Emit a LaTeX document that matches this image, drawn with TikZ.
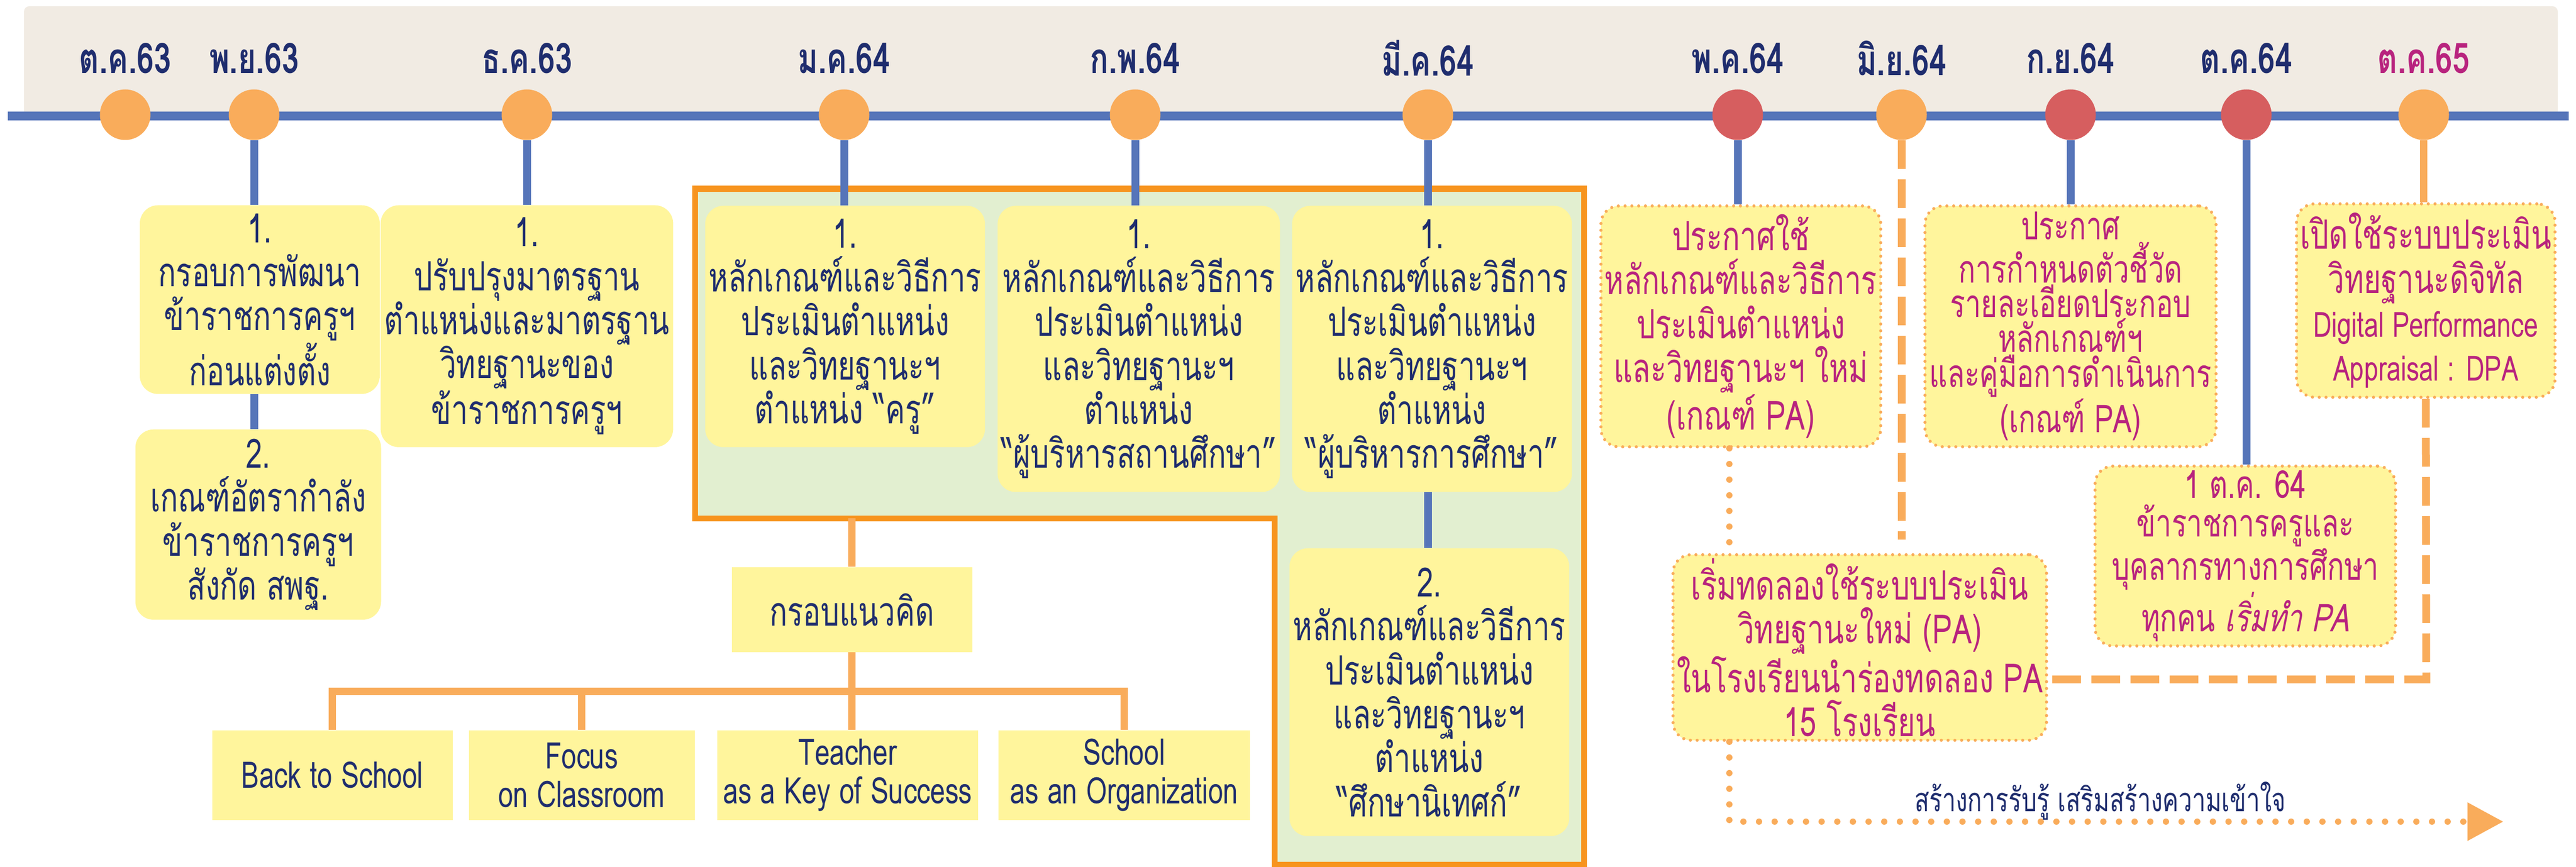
\documentclass[tikz,border=0pt]{standalone}
\usepackage{fontspec}
\setmainfont[Script=Thai,FakeStretch=0.73]{Loma}
\newfontfamily\thaiit[Script=Thai,FakeStretch=0.73,FakeSlant=0.2]{Loma}
\usetikzlibrary{positioning,arrows.meta,calc}
\definecolor{TLNavy}{HTML}{1F2D6E}
\definecolor{TLMagenta}{HTML}{B8237E}
\definecolor{TLBeige}{HTML}{F1EBE3}
\definecolor{TLBlue}{HTML}{5675B9}
\definecolor{TLDotOrange}{HTML}{F9AC5B}
\definecolor{TLDotRed}{HTML}{D65E5F}
\definecolor{TLYellow}{HTML}{FFF59C}
\definecolor{TLGreen}{HTML}{E2EFD0}
\definecolor{TLFrame}{HTML}{F7941E}
\tikzset{
    block/.style = {fill=TLYellow, rounded corners=0.35cm, align=center,
        text=TLNavy, inner sep=2pt, anchor=north,
        font=\fontsize{22}{24}\selectfont},
    pablock/.style = {block, draw=TLDotOrange, line width=0.06cm,
        dash pattern=on 0pt off 0.13cm, line cap=round, text=TLMagenta},
    plain/.style = {fill=TLYellow, align=center, text=TLNavy, anchor=north,
        inner sep=2pt, font=\fontsize{20}{21}\selectfont},
    tdot/.style = {circle, minimum size=0.97cm, inner sep=0pt},
    datelab/.style = {font=\bfseries\fontsize{23}{24}\selectfont},
    stem/.style = {draw, TLBlue, line width=0.15cm},
    ostem/.style = {draw, TLDotOrange, line width=0.14cm},
    dashline/.style = {draw, TLDotOrange, line width=0.15cm, dash pattern=on 0.55cm off 0.2cm},
    dotline/.style = {draw, TLDotOrange, line width=0.12cm, line cap=round, dash pattern=on 0pt off 0.3cm}
}

\begin{document}
\begin{tikzpicture}
        \useasboundingbox (0,0) rectangle (49.38,-16.63);
        % band and frame
        \fill[TLBeige, rounded corners=0.1cm] (0.46,-0.12) rectangle (49.03,-2.23);
        \draw[TLFrame, fill=TLGreen, line width=0.11cm] (13.32,-3.62) -- (30.36,-3.62) -- (30.36,-16.58)
            -- (24.43,-16.58) -- (24.43,-9.94) -- (13.32,-9.94) -- cycle;
        \coordinate (frm) at (13.32,-9.94);
        \coordinate (tlstart) at (0.15,-2.23);
        \coordinate (tlend) at (49.24,-2.23);
        \draw[TLBlue, line width=0.17cm] (tlstart) -- (tlend);

        % timeline
        \foreach \x/\lab/\col/\tc/\n in {2.40/ต.ค.63/TLDotOrange/TLNavy/1, 4.87/พ.ย.63/TLDotOrange/TLNavy/2,
            10.10/ธ.ค.63/TLDotOrange/TLNavy/3, 16.18/ม.ค.64/TLDotOrange/TLNavy/4, 21.76/ก.พ.64/TLDotOrange/TLNavy/5,
            27.37/มี.ค.64/TLDotOrange/TLNavy/6, 33.31/พ.ค.64/TLDotRed/TLNavy/7, 36.45/มิ.ย.64/TLDotOrange/TLNavy/8,
            39.69/ก.ย.64/TLDotRed/TLNavy/9, 43.06/ต.ค.64/TLDotRed/TLNavy/10, 46.46/ต.ค.65/TLDotOrange/TLMagenta/11}{
            \node [tdot, fill=\col, name=dot\n] at (\x,-2.2) {};
            \node [datelab, text=\tc, name=lab\n] at (\x,-1.12) {\lab};
        }

        % blocks
        \node [block, minimum width=4.6cm, minimum height=3.62cm, name=A1] at (4.98,-3.93)
            {1.\\กรอบการพัฒนา\\ข้าราชการครูฯ\\ก่อนแต่งตั้ง};
        \node [block, minimum width=4.71cm, minimum height=3.65cm, name=A2] at (4.95,-8.23)
            {2.\\เกณฑ์อัตรากำลัง\\ข้าราชการครูฯ\\สังกัด สพฐ.};
        \node [block, minimum width=5.28cm, minimum height=4.64cm, name=B1] at (10.10,-3.93)
            {1.\\ปรับปรุงมาตรฐาน\\ตำแหน่งและมาตรฐาน\\วิทยฐานะของ\\ข้าราชการครูฯ};
        \node [block, minimum width=5.27cm, minimum height=4.63cm, name=C1] at (16.20,-3.94)
            {1.\\หลักเกณฑ์และวิธีการ\\ประเมินตำแหน่ง\\และวิทยฐานะฯ\\ตำแหน่ง “ครู”};
        \node [block, minimum width=5.26cm, minimum height=5.49cm, name=C2] at (21.83,-3.94)
            {1.\\หลักเกณฑ์และวิธีการ\\ประเมินตำแหน่ง\\และวิทยฐานะฯ\\ตำแหน่ง\\“ผู้บริหารสถานศึกษา”};
        \node [block, minimum width=5.25cm, minimum height=5.49cm, name=C3] at (27.45,-3.94)
            {1.\\หลักเกณฑ์และวิธีการ\\ประเมินตำแหน่ง\\และวิทยฐานะฯ\\ตำแหน่ง\\“ผู้บริหารการศึกษา”};
        \node [block, minimum width=5.25cm, minimum height=5.52cm, name=C4] at (27.40,-10.51)
            {2.\\หลักเกณฑ์และวิธีการ\\ประเมินตำแหน่ง\\และวิทยฐานะฯ\\ตำแหน่ง\\“ศึกษานิเทศก์”};
        \node [plain, minimum width=4.61cm, minimum height=1.63cm, name=K, font=\fontsize{22}{22}\selectfont] at (16.33,-10.87) {กรอบแนวคิด};
        \node [plain, minimum width=4.61cm, minimum height=1.72cm, name=D1] at (6.37,-14.00) {Back to School};
        \node [plain, minimum width=4.33cm, minimum height=1.72cm, name=D2] at (11.15,-14.00) {Focus\\on Classroom};
        \node [plain, minimum width=5.00cm, minimum height=1.72cm, name=D3] at (16.25,-14.00) {Teacher\\as a Key of Success};
        \node [plain, minimum width=4.82cm, minimum height=1.72cm, name=D4] at (21.55,-14.00) {School\\as an Organization};

        \node [pablock, minimum width=5.21cm, minimum height=4.62cm, name=E1] at (33.37,-3.92)
            {ประกาศใช้\\หลักเกณฑ์และวิธีการ\\ประเมินตำแหน่ง\\และวิทยฐานะฯ ใหม่\\(เกณฑ์ PA)};
        \node [pablock, minimum width=5.58cm, minimum height=4.62cm, name=E2, font=\fontsize{21}{19}\selectfont] at (39.69,-3.92)
            {ประกาศ\\การกำหนดตัวชี้วัด\\รายละเอียดประกอบ\\หลักเกณฑ์ฯ\\และคู่มือการดำเนินการ\\(เกณฑ์ PA)};
        \node [pablock, minimum width=4.82cm, minimum height=3.71cm, name=E3] at (46.50,-3.88)
            {เปิดใช้ระบบประเมิน\\วิทยฐานะดิจิทัล\\{\fontsize{19}{22}\selectfont Digital Performance}\\{\fontsize{19}{22}\selectfont Appraisal : DPA}};
        \node [pablock, minimum width=5.76cm, minimum height=3.45cm, name=E4, font=\fontsize{21}{21}\selectfont] at (43.04,-8.91)
            {1 ต.ค. 64\\ข้าราชการครูและ\\บุคลากรทางการศึกษา\\ทุกคน {\thaiit เริ่มทำ PA}};
        \node [pablock, minimum width=7.04cm, minimum height=3.41cm, name=E5] at (35.65,-10.61)
            {เริ่มทดลองใช้ระบบประเมิน\\วิทยฐานะใหม่ (PA)\\ในโรงเรียนนำร่องทดลอง PA\\15 โรงเรียน};

        % connectors
        \foreach \d/\b in {2/A1,3/B1,4/C1,5/C2,6/C3,7/E1,9/E2,10/E4}{
            \draw [stem] (dot\d.south) -- (dot\d.south |- \b.north);
        }
        \draw [stem] (A1.south -| dot2) -- (A2.north -| dot2);
        \draw [stem] (C3.south -| dot6) -- (C4.north -| dot6);
        \draw [ostem] (dot11.south) -- (dot11.south |- E3.north);
        \draw [ostem] (K.north) -- (K.north |- frm);
        \draw [ostem] (K.south) -- (K.south |- D3.north);
        \coordinate (br) at (0,-13.26);
        \draw [ostem] (D1.north) -- (D1.north |- br) -- (D4.north |- br) -- (D4.north);
        \draw [ostem] (D2.north) -- (D2.north |- br);

        \coordinate (m6end) at (36.45,-10.35);
        \draw [dashline] (dot8.south) -- (m6end);
        \coordinate (jn) at (46.51,-13.03);
        \draw [dashline] (E3.south) -- (jn) -- (jn -| E5.east);

        \coordinate (dl) at (33.15,0);
        \coordinate (tip) at (47.98,-15.76);
        \draw [dotline] (E1.south -| dl) -- (E5.north -| dl);
        \draw [dotline] (E5.south -| dl) |- ($(tip)+(-0.68,0)$);
        \fill [TLDotOrange] (tip) -- ++(-0.68,0.37) -- ++(0,-0.74) -- cycle;
        \node [text=TLNavy, font=\fontsize{18}{20}\selectfont, name=aware] at (40.26,-15.36) {สร้างการรับรู้ เสริมสร้างความเข้าใจ};
    \end{tikzpicture}
\end{document}
